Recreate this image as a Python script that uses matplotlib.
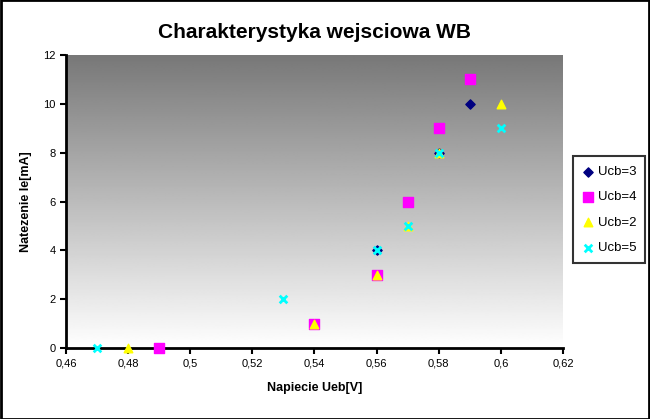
import numpy as np
import matplotlib.pyplot as plt
from matplotlib.patches import Rectangle
from matplotlib.ticker import FuncFormatter

plt.rcParams['font.family'] = ['Liberation Sans', 'DejaVu Sans']

# data
u3_x = [0.56, 0.58, 0.59]
u3_y = [4, 8, 10]
u4_x = [0.49, 0.54, 0.56, 0.57, 0.58, 0.59]
u4_y = [0, 1, 3, 6, 9, 11]
u2_x = [0.48, 0.54, 0.56, 0.57, 0.58, 0.60]
u2_y = [0, 1, 3, 5, 8, 10]
u5_x = [0.47, 0.53, 0.56, 0.57, 0.58, 0.60]
u5_y = [0, 2, 4, 5, 8, 9]

fig = plt.figure(figsize=(6.5, 4.19), dpi=100)
ax = fig.add_axes([66/650, 1-348/419, (563-66)/650, (348-55)/419])

# gray gradient background of the plot area (dark at top)
grad = np.linspace(0.47, 1.0, 256).reshape(-1, 1)
ax.imshow(grad, extent=[0.46, 0.62, 0, 12], origin='upper', aspect='auto',
          cmap='gray', vmin=0, vmax=1, zorder=0)

ax.scatter(u3_x, u3_y, marker='D', s=22, color='#000080', label='Ucb=3', zorder=3, clip_on=False)
ax.scatter(u4_x, u4_y, marker='s', s=42, color='#ff00ff', label='Ucb=4', zorder=3, clip_on=False)
ax.scatter(u2_x, u2_y, marker='^', s=38, color='#ffff00', label='Ucb=2', zorder=3, clip_on=False)
ax.scatter(u5_x, u5_y, marker='x', s=30, color='#00ffff', linewidths=2, label='Ucb=5', zorder=3, clip_on=False)

ax.set_xlim(0.46, 0.62)
ax.set_ylim(0, 12)
ax.set_xticks(np.arange(0.46, 0.621, 0.02))
ax.set_yticks(range(0, 13, 2))
ax.xaxis.set_major_formatter(FuncFormatter(lambda v, p: f'{v:g}'.replace('.', ',')))
ax.tick_params(direction='out', length=4, width=1.5, labelsize=8)
for s in ['top', 'right']:
    ax.spines[s].set_visible(False)
for s in ['left', 'bottom']:
    ax.spines[s].set_linewidth(2)

ax.set_title('Charakterystyka wejsciowa WB', fontsize=15, fontweight='bold', pad=12)
ax.set_xlabel('Napiecie Ueb[V]', fontsize=9, fontweight='bold', labelpad=10)
ax.set_ylabel('Natezenie Ie[mA]', fontsize=9, fontweight='bold', labelpad=8)

leg = fig.legend(loc='center left', bbox_to_anchor=(566/650, 1-210/419), fontsize=9.5,
                 frameon=True, fancybox=False, edgecolor='black', labelspacing=1.0,
                 handletextpad=0.2, handlelength=1.0, borderpad=0.7)
leg.get_frame().set_linewidth(1.5)

fig.patches.append(Rectangle((0.001, 0.001), 0.998, 0.998, transform=fig.transFigure,
                             fill=False, edgecolor='black', linewidth=2))

fig.savefig('out.png', dpi=100)
